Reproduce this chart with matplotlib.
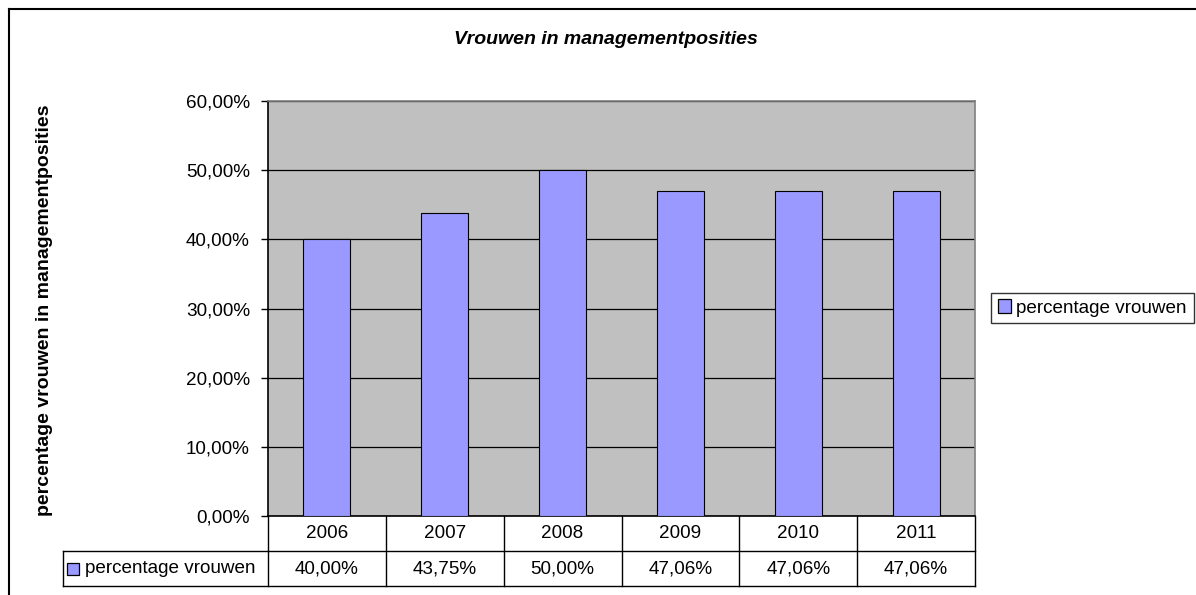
import matplotlib
matplotlib.use("Agg")
import matplotlib.pyplot as plt
from matplotlib.patches import Rectangle
from matplotlib.lines import Line2D

plt.rcParams['font.family'] = ['Liberation Sans', 'DejaVu Sans']

# data
years = ['2006', '2007', '2008', '2009', '2010', '2011']
values = [40.00, 43.75, 50.00, 47.06, 47.06, 47.06]
series_name = 'percentage vrouwen'
title = 'Vrouwen in managementposities'
ylabel = 'percentage vrouwen in managementposities'
yticks = [0, 10, 20, 30, 40, 50, 60]

W, H = 1196, 595
fig = plt.figure(figsize=(W / 100, H / 100), dpi=100)

bar_color = '#9999FF'
bg_color = '#C0C0C0'
fs = 13.6

# plot area in pixels
left, right, top, bottom = 268, 975, 101, 516
ax = fig.add_axes([left / W, 1 - bottom / H, (right - left) / W, (bottom - top) / H])
ax.set_facecolor(bg_color)

x = list(range(len(years)))
ax.bar(x, values, width=0.4, color=bar_color, edgecolor='black', linewidth=0.8, zorder=3)
ax.set_xlim(-0.5, len(years) - 0.5)
ax.set_ylim(0, 60)
ax.set_yticks(yticks)
ax.set_yticklabels([f'{v:.2f}%'.replace('.', ',') for v in yticks], fontsize=fs)
ax.set_xticks([])
ax.yaxis.grid(True, color='black', linewidth=0.9, zorder=1)
ax.set_axisbelow(True)
ax.tick_params(axis='y', length=5, width=1, pad=8)
for s in ['top', 'right']:
    ax.spines[s].set_color('#808080')
    ax.spines[s].set_linewidth(1.2)
ax.spines['left'].set_linewidth(1.2)
ax.spines['bottom'].set_linewidth(1.2)

# data table below the axes
row_h = 35 / (bottom - top)
blend = ax.get_xaxis_transform()
lw = 1.0
label_left = (63 - left) / (right - left) * len(years) - 0.5

for i, (yr, v) in enumerate(zip(years, values)):
    ax.text(i, -row_h / 2, yr, transform=blend, ha='center', va='center', fontsize=fs, clip_on=False)
    ax.text(i, -row_h * 1.5, f'{v:.2f}%'.replace('.', ','), transform=blend,
            ha='center', va='center', fontsize=fs, clip_on=False)

# grid lines of the table
for k in range(len(years) + 1):
    xv = k - 0.5
    ax.add_line(Line2D([xv, xv], [0, -2 * row_h], transform=blend, color='black', lw=lw, clip_on=False))
ax.add_line(Line2D([-0.5, len(years) - 0.5], [-row_h, -row_h], transform=blend, color='black', lw=lw, clip_on=False))
ax.add_line(Line2D([label_left, len(years) - 0.5], [-2 * row_h, -2 * row_h], transform=blend, color='black', lw=lw, clip_on=False))
ax.add_line(Line2D([label_left, -0.5], [-row_h, -row_h], transform=blend, color='black', lw=lw, clip_on=False))
ax.add_line(Line2D([label_left, label_left], [-row_h, -2 * row_h], transform=blend, color='black', lw=lw, clip_on=False))

# label cell with legend key
px = len(years) / (right - left)
py = 1 / (bottom - top)
ax.add_patch(Rectangle((label_left + 4 * px, -row_h * 1.5 - 6 * py), 12 * px, 12 * py, transform=blend,
                       facecolor=bar_color, edgecolor='black', lw=0.9, clip_on=False))
ax.text(label_left + 22 * px, -row_h * 1.5, series_name, transform=blend,
        ha='left', va='center', fontsize=fs, clip_on=False)

# title and y label
fig.text(606 / W, 1 - 40 / H, title, ha='center', va='center', fontsize=14,
         fontweight='bold', fontstyle='italic')
fig.text(45 / W, 1 - 310 / H, ylabel, ha='center', va='center', rotation=90,
         fontsize=14, fontweight='bold')

# legend on the right
leg = fig.legend([Rectangle((0, 0), 1, 1, facecolor=bar_color, edgecolor='black', lw=0.9)],
                 [series_name], loc='center left', bbox_to_anchor=(991 / W, 1 - 308 / H),
                 fontsize=fs, frameon=True, fancybox=False, handlelength=0.7, handleheight=0.7,
                 handletextpad=0.3, borderpad=0.35, borderaxespad=0)
leg.get_frame().set_edgecolor('black')
leg.get_frame().set_linewidth(1.0)

# outer chart border (top and left visible)
fig.add_artist(Line2D([9 / W, 9 / W], [0, 1 - 9 / H], transform=fig.transFigure, color='black', lw=1.5))
fig.add_artist(Line2D([9 / W, 1], [1 - 9 / H, 1 - 9 / H], transform=fig.transFigure, color='black', lw=1.5))

fig.savefig('out.png', dpi=100)
